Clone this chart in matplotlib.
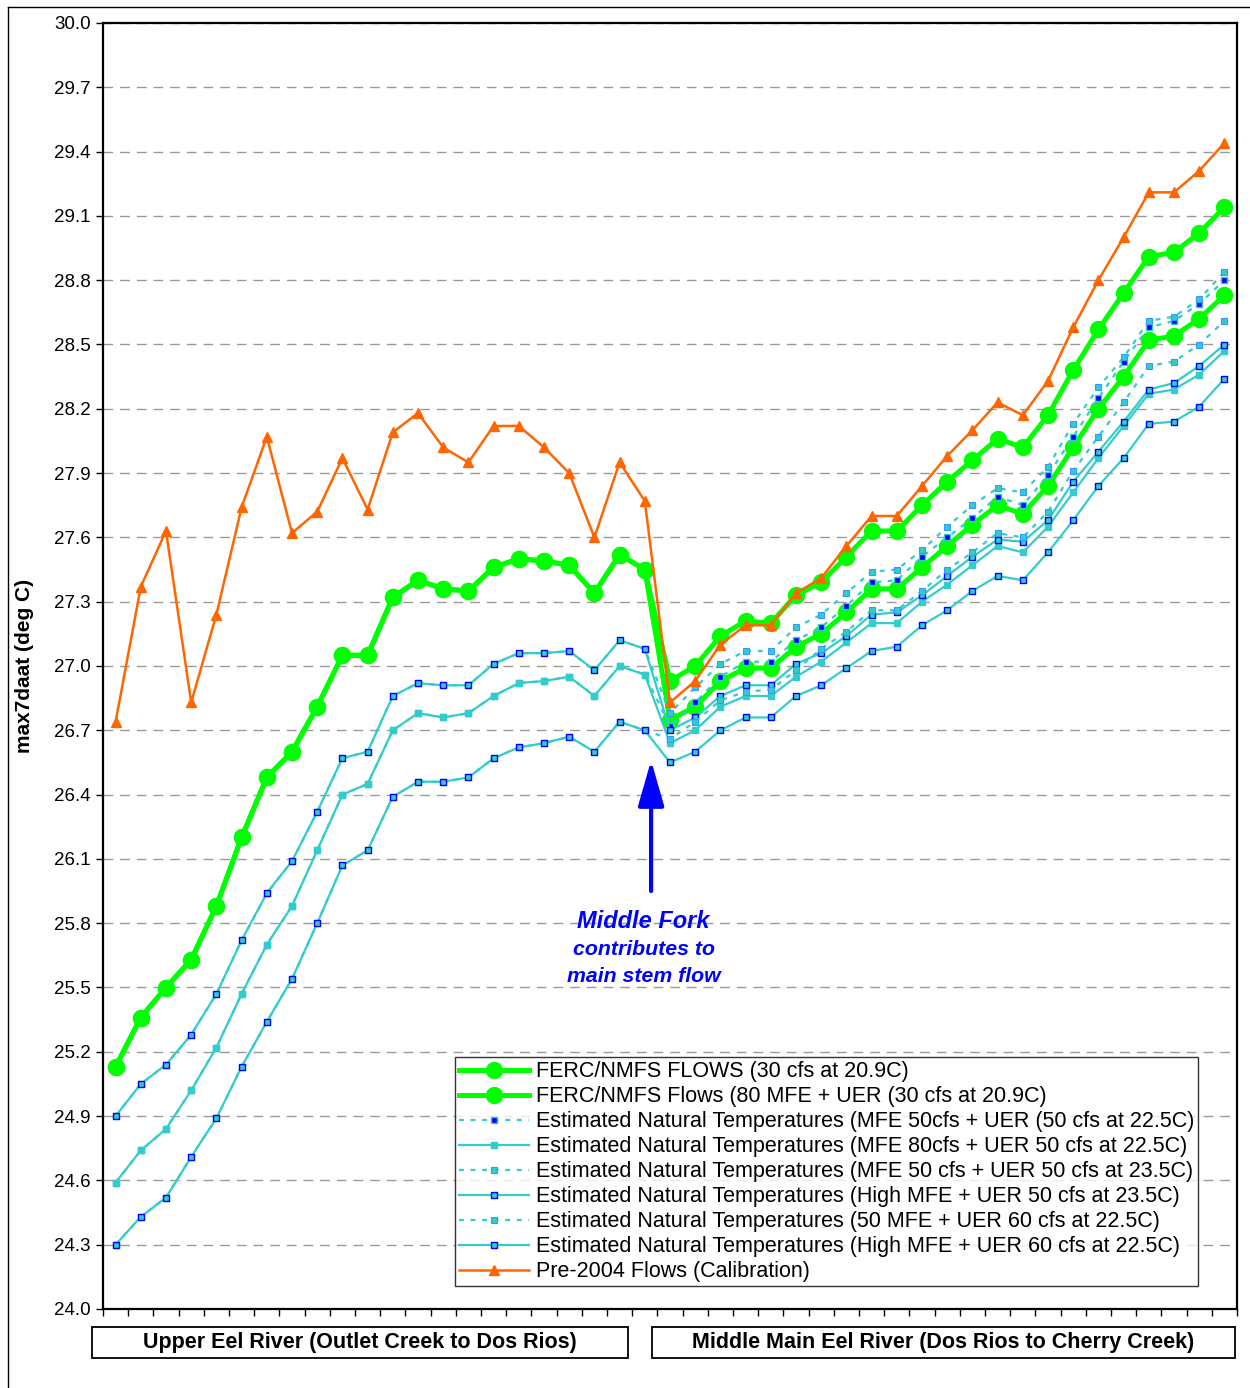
import numpy as np
import matplotlib
matplotlib.use('Agg')
import matplotlib.pyplot as plt
from matplotlib.patches import Rectangle
from matplotlib.lines import Line2D

plt.rcParams['font.family'] = ['Liberation Sans', 'DejaVu Sans']

# river segments (index 0-21 upper eel, 22-44 middle main eel)
sites = np.arange(45)

ferc_30 = [25.13, 25.36, 25.50, 25.63, 25.88, 26.20, 26.48, 26.60, 26.81, 27.05, 27.05,
           27.32, 27.40, 27.36, 27.35, 27.46, 27.50, 27.49, 27.47, 27.34, 27.52, 27.45,
           26.93, 27.00, 27.14, 27.21, 27.20, 27.33, 27.39, 27.51, 27.63, 27.63, 27.75,
           27.86, 27.96, 28.06, 28.02, 28.17, 28.38, 28.57, 28.74, 28.91, 28.93, 29.02, 29.14]
ferc_80 = ferc_30[:22] + [26.75, 26.81, 26.93, 26.99, 26.99, 27.09, 27.15, 27.25, 27.36, 27.36,
                          27.46, 27.56, 27.66, 27.75, 27.71, 27.84, 28.02, 28.20, 28.35, 28.52,
                          28.54, 28.62, 28.73]

upper_235 = [24.90, 25.05, 25.14, 25.28, 25.47, 25.72, 25.94, 26.09, 26.32, 26.57, 26.60,
             26.86, 26.92, 26.91, 26.91, 27.01, 27.06, 27.06, 27.07, 26.98, 27.12, 27.08]
upper_50 = [24.59, 24.74, 24.84, 25.02, 25.22, 25.47, 25.70, 25.88, 26.14, 26.40, 26.45,
            26.70, 26.78, 26.76, 26.78, 26.86, 26.92, 26.93, 26.95, 26.86, 27.00, 26.96]
upper_60 = [24.30, 24.43, 24.52, 24.71, 24.89, 25.13, 25.34, 25.54, 25.80, 26.07, 26.14,
            26.39, 26.46, 26.46, 26.48, 26.57, 26.62, 26.64, 26.67, 26.60, 26.74, 26.70]

nat_mfe50_uer50 = upper_50 + [26.72, 26.83, 26.95, 27.02, 27.02, 27.12, 27.18, 27.28, 27.39, 27.40,
                              27.51, 27.60, 27.69, 27.79, 27.75, 27.89, 28.07, 28.25, 28.42, 28.58,
                              28.61, 28.69, 28.80]
nat_mfe80_uer50 = upper_50 + [26.64, 26.70, 26.81, 26.86, 26.86, 26.95, 27.02, 27.11, 27.20, 27.20,
                              27.30, 27.38, 27.47, 27.56, 27.53, 27.65, 27.81, 27.97, 28.12, 28.27,
                              28.29, 28.36, 28.47]
nat_mfe50_uer235 = upper_235 + [26.78, 26.90, 27.01, 27.07, 27.07, 27.18, 27.24, 27.34, 27.44, 27.45,
                                27.54, 27.65, 27.75, 27.83, 27.81, 27.93, 28.13, 28.30, 28.44, 28.61,
                                28.63, 28.71, 28.84]
nat_high_uer235 = upper_235 + [26.70, 26.76, 26.86, 26.91, 26.91, 27.01, 27.06, 27.14, 27.24, 27.25,
                               27.33, 27.42, 27.51, 27.59, 27.58, 27.68, 27.86, 28.00, 28.14, 28.29,
                               28.32, 28.40, 28.50]
nat_mfe50_uer60 = upper_60 + [26.66, 26.74, 26.84, 26.88, 26.89, 26.98, 27.08, 27.16, 27.26, 27.26,
                              27.35, 27.45, 27.53, 27.62, 27.60, 27.72, 27.91, 28.07, 28.23, 28.40,
                              28.42, 28.50, 28.61]
nat_high_uer60 = upper_60 + [26.55, 26.60, 26.70, 26.76, 26.76, 26.86, 26.91, 26.99, 27.07, 27.09,
                             27.19, 27.26, 27.35, 27.42, 27.40, 27.53, 27.68, 27.84, 27.97, 28.13,
                             28.14, 28.21, 28.34]

pre2004 = [26.74, 27.37, 27.63, 26.83, 27.24, 27.74, 28.07, 27.62, 27.72, 27.97, 27.73,
           28.09, 28.18, 28.02, 27.95, 28.12, 28.12, 28.02, 27.90, 27.60, 27.95, 27.77,
           26.83, 26.93, 27.10, 27.19, 27.19, 27.34, 27.41, 27.56, 27.70, 27.70, 27.84,
           27.98, 28.10, 28.23, 28.17, 28.33, 28.58, 28.80, 29.00, 29.21, 29.21, 29.31, 29.44]

labels = ['FERC/NMFS FLOWS (30 cfs at 20.9C)',
          'FERC/NMFS Flows (80 MFE + UER (30 cfs at 20.9C)',
          'Estimated Natural Temperatures (MFE 50cfs + UER (50 cfs at 22.5C)',
          'Estimated Natural Temperatures (MFE 80cfs + UER 50 cfs at 22.5C)',
          'Estimated Natural Temperatures (MFE 50 cfs + UER 50 cfs at 23.5C)',
          'Estimated Natural Temperatures (High MFE + UER 50 cfs at 23.5C)',
          'Estimated Natural Temperatures (50 MFE + UER 60 cfs at 22.5C)',
          'Estimated Natural Temperatures (High MFE + UER 60 cfs at 22.5C)',
          'Pre-2004 Flows (Calibration)']

green = '#00FF00'
orange = '#FF6600'
cyan = '#33CCCC'
blue = '#0000FF'
dots = (0, (2.2, 3))

fig = plt.figure(figsize=(12.5, 13.88), dpi=100)
ax = fig.add_axes([103/1250, 1-1309/1388, (1237-103)/1250, (1309-23)/1388])

ax.plot(sites, ferc_30, color=green, lw=3.6, marker='o', ms=11.5, label=labels[0], zorder=3)
ax.plot(sites, ferc_80, color=green, lw=3.6, marker='o', ms=11.5, label=labels[1], zorder=3)
ax.plot(sites, nat_mfe50_uer50, color=cyan, lw=1.6, ls=dots, marker='s', ms=4.5,
        mfc=blue, mec=cyan, mew=1, label=labels[2], zorder=4)
ax.plot(sites, nat_mfe80_uer50, color=cyan, lw=1.6, marker='s', ms=5,
        mfc=cyan, mec=cyan, label=labels[3], zorder=4)
ax.plot(sites, nat_mfe50_uer235, color=cyan, lw=1.6, ls=dots, marker='s', ms=5,
        mfc=cyan, mec='#3399FF', mew=0.8, label=labels[4], zorder=4)
ax.plot(sites, nat_high_uer235, color=cyan, lw=1.6, marker='s', ms=4.5,
        mfc=cyan, mec=blue, mew=1, label=labels[5], zorder=4)
ax.plot(sites, nat_mfe50_uer60, color=cyan, lw=1.6, ls=dots, marker='s', ms=5,
        mfc=cyan, mec='#3399FF', mew=0.8, label=labels[6], zorder=4)
ax.plot(sites, nat_high_uer60, color=cyan, lw=1.6, marker='s', ms=4.5,
        mfc=cyan, mec=blue, mew=1, label=labels[7], zorder=4)
ax.plot(sites, pre2004, color=orange, lw=1.8, marker='^', ms=7.5, label=labels[8], zorder=5)

ax.set_xlim(-0.5, 44.5)
ax.set_ylim(24.0, 30.0)
ax.set_yticks(np.arange(24.0, 30.01, 0.3))
ax.set_yticklabels(['%.1f' % v for v in np.arange(24.0, 30.01, 0.3)], fontsize=13.5)
ax.set_xticks(np.arange(-0.5, 45, 1))
ax.set_xticklabels([])
ax.tick_params(axis='both', direction='out', length=5, width=1, color='black', pad=4)
ax.grid(axis='y', color='#999999', ls=(0, (7, 5)), lw=1)
for s in ax.spines.values():
    s.set_color('black')
    s.set_linewidth(1.6)

ax.set_ylabel('max7daat (deg C)', fontsize=15, fontweight='bold', labelpad=14)

# Middle Fork note
ax.annotate('', xy=(21.25, 26.56), xytext=(21.25, 25.95),
            arrowprops=dict(arrowstyle='-|>,head_width=0.4,head_length=1.4',
                            color=blue, lw=3, mutation_scale=20, shrinkA=0, shrinkB=0))
ax.text(20.95, 25.81, 'Middle Fork', color=blue, fontsize=17, fontweight='bold',
        fontstyle='italic', ha='center', va='center')
ax.text(20.95, 25.675, 'contributes to', color=blue, fontsize=15.3, fontweight='bold',
        fontstyle='italic', ha='center', va='center')
ax.text(20.95, 25.55, 'main stem flow', color=blue, fontsize=15.3, fontweight='bold',
        fontstyle='italic', ha='center', va='center')

leg = ax.legend(loc='upper left', bbox_to_anchor=(455/1250, 1-1057/1388),
                bbox_transform=fig.transFigure, fontsize=15.5, frameon=True,
                fancybox=False, borderaxespad=0, borderpad=0.2, labelspacing=0.185,
                handlelength=3.25, handletextpad=0.3)
leg.get_frame().set_edgecolor('black')
leg.get_frame().set_linewidth(1)
leg.set_zorder(10)

# segment labels under the axis
boxes = [(92, 628, 'Upper Eel River (Outlet Creek to Dos Rios)'),
         (652, 1235, 'Middle Main Eel River (Dos Rios to Cherry Creek)')]
for x0, x1, txt in boxes:
    fig.patches.append(Rectangle((x0/1250, 1-1358/1388), (x1-x0)/1250, 31/1388,
                                 transform=fig.transFigure, fill=False,
                                 edgecolor='black', lw=1.3))
    fig.text((x0+x1)/2/1250, 1-1342.5/1388, txt, ha='center', va='center',
             fontsize=15.5, fontweight='bold')

# outer chart border (left and top)
fig.add_artist(Line2D([8/1250, 8/1250], [0, 1-7/1388], transform=fig.transFigure,
                      color='black', lw=1))
fig.add_artist(Line2D([8/1250, 1], [1-7/1388, 1-7/1388], transform=fig.transFigure,
                      color='black', lw=1))

fig.savefig('out.png', dpi=100)
